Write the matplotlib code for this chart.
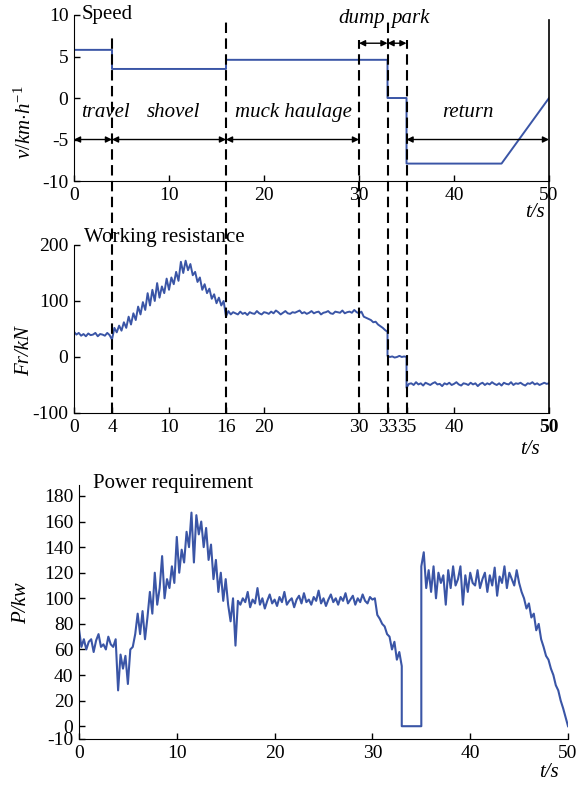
import numpy as np
import matplotlib
matplotlib.use("Agg")
import matplotlib.pyplot as plt

plt.rcParams['font.family'] = ['Liberation Serif', 'DejaVu Serif']
plt.rcParams['mathtext.fontset'] = 'custom'
plt.rcParams['mathtext.rm'] = 'Liberation Serif'
plt.rcParams['mathtext.it'] = 'Liberation Serif:italic'
plt.rcParams['axes.unicode_minus'] = False

BLUE = '#3a55a6'

# speed profile (km/h), step changes at phase boundaries
speed_t = [0, 4, 4, 16, 16, 33, 33, 35, 35, 45, 50]
speed_v = [5.8, 5.8, 3.5, 3.5, 4.6, 4.6, 0, 0, -7.9, -7.9, 0]

# phase boundaries (s) and phase labels
phase_bounds = [4, 16, 30, 33, 35]
phases_low = ['travel', 'shovel', 'muck haulage', 'return']
phases_low_span = [(0, 4), (4, 16), (16, 30), (35, 50)]
phases_low_pos = [3.3, 10.5, 23.1, 41.5]
phases_high = ['dump', 'park']
phases_high_span = [(30, 33), (33, 35)]
phases_high_pos = [30.3, 35.4]

# working resistance (kN), sampled every 0.25 s, in three pieces
fr_a = [45, 40, 43, 38, 41, 37, 42, 39, 40, 43, 37, 41, 40, 38, 43, 39,
        31, 52, 44, 56, 47, 62, 52, 72, 58, 78, 66, 90, 76, 98, 84, 114,
        92, 120, 100, 132, 106, 126, 114, 140, 120, 142, 130, 152,
        136, 170, 150, 172, 155, 166, 146, 152, 134, 142, 120, 130,
        114, 122, 104, 112, 96, 106, 92, 100, 72, 82, 76, 80,
        78, 76, 81, 77, 79, 75, 80, 78, 77, 82, 78, 76, 80, 79, 77, 81,
        78, 83, 80, 76, 79, 82, 78, 77, 80, 79, 81, 83, 78, 80, 77, 79,
        82, 78, 80, 81, 76, 79, 80, 82, 78, 77, 81, 80, 79, 83, 78, 80,
        81, 79, 84, 80, 78, 81, 72, 70, 68, 66, 62, 63, 58, 55, 52, 48, 45]
fr_b = [2, 0, 1, -1, 0, 2, 0, 1, 0]
fr_c = [-55, -48, -47, -50, -45, -49, -47, -51, -46, -48, -50, -47, -45, -49,
        -48, -52, -47, -49, -46, -50, -48, -45, -49, -51, -47, -48, -50, -46,
        -49, -47, -52, -48, -46, -50, -47, -49, -45, -48, -50, -47, -51, -46,
        -48, -49, -45, -50, -47, -48, -46, -49, -51, -47, -48, -45, -49, -47,
        -50, -48, -46, -48, -47]

# power requirement (kW), sampled every 0.25 s, in three pieces
p_a = [76, 62, 68, 60, 66, 68, 58, 67, 72, 62, 64, 60, 70, 64, 62, 68,
       28, 56, 45, 55, 33, 60, 62, 72, 88, 72, 90, 68, 85, 105, 88, 120,
       95, 108, 133, 100, 115, 108, 125, 112, 148, 120, 138, 128,
       152, 140, 167, 128, 165, 150, 160, 140, 155, 130, 142, 115,
       130, 105, 120, 98, 115, 95, 82, 100, 63, 98, 95, 100,
       97, 105, 93, 99, 96, 108, 95, 100, 92, 98, 103, 96, 99, 94, 101, 97,
       105, 95, 98, 100, 93, 99, 102, 96, 104, 97, 99, 95, 101, 98, 106, 96,
       100, 94, 99, 103, 97, 100, 95, 101, 98, 104, 96, 99, 102, 95, 100, 97,
       103, 98, 96, 101, 99, 100, 87, 84, 80, 78, 72, 70, 60, 66, 52, 58, 47]
p_b = [0, 0]
p_c = [125, 136, 108, 122, 105, 125, 100, 120, 112, 118, 95, 122,
       108, 125, 110, 115, 125, 95, 118, 105, 120, 112, 110, 122,
       108, 115, 120, 105, 118, 110, 124, 102, 117, 112, 125, 108,
       120, 115, 110, 122, 112, 105, 100, 92, 96, 85, 88, 75,
       80, 68, 62, 55, 52, 45, 40, 32, 28, 20, 14, 7, 0]


def pieces(a, b, c):
    t = np.concatenate([np.linspace(0, 33, len(a)),
                        np.linspace(33, 35, len(b)),
                        np.linspace(35, 50, len(c))])
    return t, np.concatenate([a, b, c])


fr_t, fr_v = pieces(fr_a, fr_b, fr_c)
p_t, p_v = pieces(p_a, p_b, p_c)

fig = plt.figure(figsize=(5.85, 7.85), dpi=100)
ax1 = fig.add_axes([0.1265, 0.7694, 0.812, 0.2115])
ax2 = fig.add_axes([0.1265, 0.4739, 0.812, 0.214])
ax3 = fig.add_axes([0.135, 0.0586, 0.836, 0.3236])

for ax in (ax1, ax2, ax3):
    ax.spines['top'].set_visible(False)
    ax.spines['right'].set_visible(False)
    ax.tick_params(direction='in', length=4, width=1, labelsize=14, pad=4,
                   top=False, right=False)
    ax.set_xlim(0, 50)

# speed
ax1.plot(speed_t, speed_v, color=BLUE, lw=1.4)
ax1.set_ylim(-10, 10)
ax1.set_xticks([0, 10, 20, 30, 40, 50])
ax1.set_yticks([-10, -5, 0, 5, 10])
ax1.text(0.8, 10, 'Speed', fontsize=15, ha='left', va='center')
for (a, b) in phases_low_span:
    ax1.annotate('', xy=(a, -5), xytext=(b, -5),
                 arrowprops=dict(arrowstyle='<|-|>', color='k', lw=1,
                                 mutation_scale=9, shrinkA=0, shrinkB=0))
for name, x in zip(phases_low, phases_low_pos):
    ax1.text(x, -1.8, name, fontsize=15, style='italic', ha='center', va='center')
for (a, b) in phases_high_span:
    ax1.annotate('', xy=(a, 6.6), xytext=(b, 6.6),
                 arrowprops=dict(arrowstyle='<|-|>', color='k', lw=1,
                                 mutation_scale=9, shrinkA=0, shrinkB=0))
for name, x in zip(phases_high, phases_high_pos):
    ax1.text(x, 9.6, name, fontsize=15, style='italic', ha='center', va='center')
ax1.text(48.5, -0.19, 't/s', fontsize=15, style='italic', ha='center', va='center',
         transform=ax1.get_xaxis_transform())

# working resistance
ax2.plot(fr_t, fr_v, color=BLUE, lw=1.4)
ax2.set_ylim(-100, 200)
ax2.set_yticks([-100, 0, 100, 200])
ax2.set_xticks([0, 4, 10, 16, 20, 30, 33, 35, 40, 50])
ax2.get_xticklabels()[-1].set_fontweight('bold')
ax2.text(1.0, 214, 'Working resistance', fontsize=15, ha='left', va='center')
ax2.text(48.0, -0.22, 't/s', fontsize=15, style='italic', ha='center', va='center',
         transform=ax2.get_xaxis_transform())

# dashed phase lines running through both upper panels
tops = [2.24, 2.34, 2.22, 2.34, 2.22]
for x, top in zip(phase_bounds, tops):
    ax2.plot([x, x], [0, top], transform=ax2.get_xaxis_transform(), clip_on=False,
             color='k', lw=1.5, dashes=(5, 2.6), zorder=3)
ax2.plot([50, 50], [0, 2.34], transform=ax2.get_xaxis_transform(), clip_on=False,
         color='k', lw=1.2, zorder=3)

# power
ax3.plot(p_t, p_v, color=BLUE, lw=1.5)
ax3.set_ylim(-10, 188.6)
ax3.set_yticks([-10, 0, 20, 40, 60, 80, 100, 120, 140, 160, 180])
ax3.set_xticks([0, 10, 20, 30, 40, 50])
ax3.text(1.4, 190, 'Power requirement', fontsize=15, ha='left', va='center')
ax3.text(48.0, -0.13, 't/s', fontsize=15, style='italic', ha='center', va='center',
         transform=ax3.get_xaxis_transform())

fig.text(25 / 585, 1 - 122 / 785, r'$v/km{\cdot}h^{-1}$', fontsize=15,
         rotation=90, ha='center', va='center')
fig.text(25 / 585, 1 - 351 / 785, 'Fr/kN', fontsize=15, style='italic',
         rotation=90, ha='center', va='center')
fig.text(22 / 585, 1 - 603 / 785, 'P/kw', fontsize=15, style='italic',
         rotation=90, ha='center', va='center')

fig.savefig('out.png', dpi=100)
